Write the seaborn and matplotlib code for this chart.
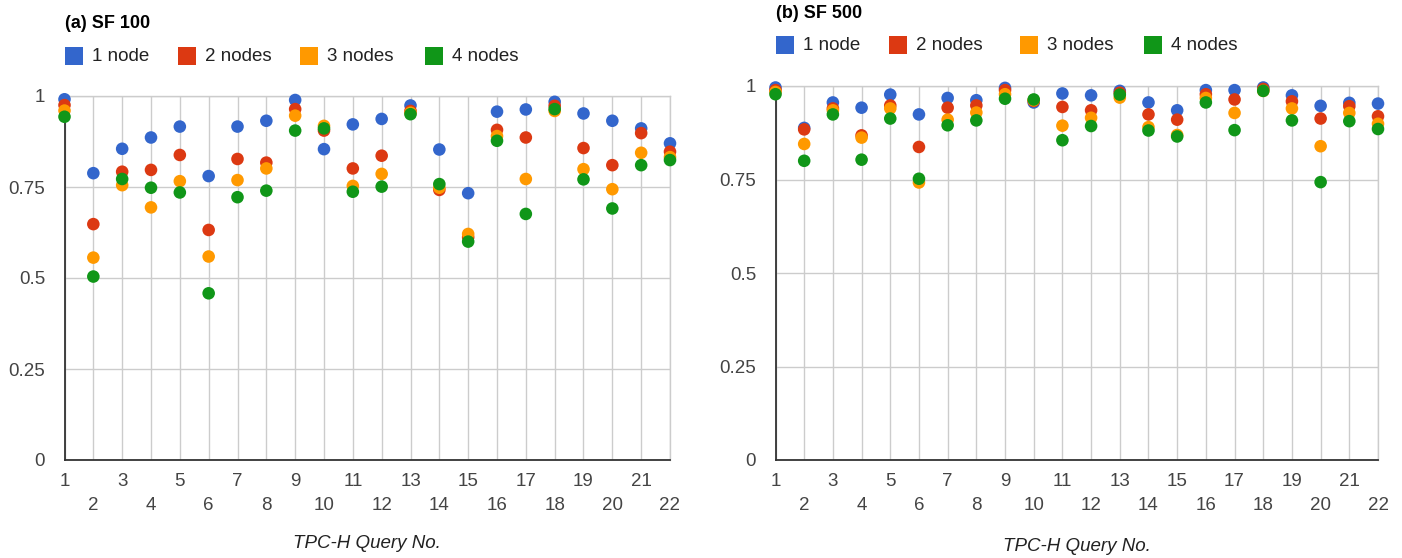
import numpy as np
import pandas as pd
import matplotlib
matplotlib.use("Agg")
import matplotlib.pyplot as plt
from matplotlib.lines import Line2D
from matplotlib.ticker import FixedLocator
import seaborn as sns

# TPC-H query numbers
queries = list(range(1, 23))
series_names = ["1 node", "2 nodes", "3 nodes", "4 nodes"]
series_colors = ["#3366CC", "#DC3912", "#FF9900", "#109618"]

# Scale factor 100
sf100_1_node = [0.991, 0.788, 0.855, 0.886, 0.916, 0.780, 0.916, 0.932, 0.989, 0.854, 0.922,
                0.937, 0.974, 0.853, 0.733, 0.957, 0.963, 0.984, 0.952, 0.932, 0.911, 0.870]
sf100_2_nodes = [0.975, 0.648, 0.792, 0.797, 0.838, 0.632, 0.827, 0.817, 0.964, 0.905, 0.801,
                 0.836, 0.959, 0.742, 0.612, 0.907, 0.886, 0.973, 0.857, 0.810, 0.898, 0.847]
sf100_3_nodes = [0.960, 0.556, 0.755, 0.694, 0.766, 0.559, 0.769, 0.801, 0.946, 0.918, 0.753,
                 0.786, 0.954, 0.748, 0.621, 0.890, 0.772, 0.959, 0.799, 0.744, 0.844, 0.832]
sf100_4_nodes = [0.943, 0.504, 0.772, 0.748, 0.735, 0.458, 0.722, 0.740, 0.905, 0.911, 0.737,
                 0.751, 0.950, 0.758, 0.600, 0.877, 0.676, 0.964, 0.771, 0.691, 0.810, 0.824]

# Scale factor 500
sf500_1_node = [0.996, 0.888, 0.956, 0.942, 0.977, 0.924, 0.968, 0.962, 0.995, 0.956, 0.980,
                0.975, 0.987, 0.956, 0.935, 0.989, 0.989, 0.996, 0.975, 0.947, 0.955, 0.953]
sf500_2_nodes = [0.989, 0.884, 0.940, 0.868, 0.948, 0.837, 0.942, 0.948, 0.989, 0.960, 0.944,
                 0.935, 0.982, 0.924, 0.910, 0.978, 0.964, 0.992, 0.959, 0.913, 0.946, 0.919]
sf500_3_nodes = [0.984, 0.845, 0.935, 0.862, 0.940, 0.742, 0.910, 0.929, 0.978, 0.962, 0.894,
                 0.915, 0.969, 0.890, 0.869, 0.968, 0.928, 0.987, 0.940, 0.839, 0.928, 0.899]
sf500_4_nodes = [0.978, 0.800, 0.924, 0.803, 0.913, 0.752, 0.895, 0.908, 0.966, 0.964, 0.855,
                 0.893, 0.977, 0.881, 0.865, 0.956, 0.882, 0.987, 0.908, 0.743, 0.906, 0.885]

y_ticks = [0, 0.25, 0.5, 0.75, 1]
y_tick_labels = ["0", "0.25", "0.5", "0.75", "1"]


def long_frame(columns):
    parts = []
    for name, vals in zip(series_names, columns):
        parts.append(pd.DataFrame({"query": queries, "value": vals, "series": name}))
    return pd.concat(parts, ignore_index=True)


sns.set_style("white")
plt.rcParams["font.family"] = ["Liberation Sans", "DejaVu Sans"]

W, H = 1402, 558
fig = plt.figure(figsize=(W / 100, H / 100), dpi=100)


def px_axes(x0, x1, ytop, ybot):
    return fig.add_axes([x0 / W, 1 - ybot / H, (x1 - x0) / W, (ybot - ytop) / H])


ax_a = px_axes(64.5, 670, 96, 460)
ax_b = px_axes(775.5, 1378, 86, 460)

palette = dict(zip(series_names, series_colors))
grid_c = "#cccccc"
axis_c = "#333333"
label_c = "#444444"

panels = [
    (ax_a, [sf100_1_node, sf100_2_nodes, sf100_3_nodes, sf100_4_nodes], "(a) SF 100",
     (65, 24), (65, 56), [0, 113, 235, 360]),
    (ax_b, [sf500_1_node, sf500_2_nodes, sf500_3_nodes, sf500_4_nodes], "(b) SF 500",
     (776, 14), (776, 45), [0, 113, 244, 368]),
]

for ax, cols, title, tpos, lpos, offs in panels:
    df = long_frame(cols)
    sns.scatterplot(data=df, x="query", y="value", hue="series", palette=palette,
                    hue_order=series_names, s=82, linewidth=0, legend=False,
                    ax=ax, clip_on=False, zorder=4)
    ax.set_xlim(1, 22)
    ax.set_ylim(0, 1)

    ax.xaxis.set_major_locator(FixedLocator([q for q in queries if q % 2 == 1]))
    ax.xaxis.set_minor_locator(FixedLocator([q for q in queries if q % 2 == 0]))
    ax.set_xticklabels([str(q) for q in queries if q % 2 == 1])
    ax.set_xticklabels([str(q) for q in queries if q % 2 == 0], minor=True)
    ax.set_yticks(y_ticks)
    ax.set_yticklabels(y_tick_labels)

    ax.tick_params(axis="x", which="major", length=0, pad=9.0, labelsize=13.5, labelcolor=label_c)
    ax.tick_params(axis="x", which="minor", length=0, pad=27.0, labelsize=13.5, labelcolor=label_c)
    ax.tick_params(axis="y", length=0, pad=14, labelsize=13.5, labelcolor=label_c)

    ax.grid(True, which="both", axis="x", color=grid_c, lw=1.0, zorder=0)
    ax.grid(True, which="major", axis="y", color=grid_c, lw=1.0, zorder=0)
    ax.set_axisbelow(True)
    for side in ("top", "right"):
        ax.spines[side].set_color(grid_c)
        ax.spines[side].set_linewidth(1.0)
    for side in ("left", "bottom"):
        ax.spines[side].set_color(axis_c)
        ax.spines[side].set_linewidth(1.3)
        ax.spines[side].set_zorder(3)

    ax.set_ylabel("")
    ax.set_xlabel("TPC-H Query No.", fontsize=13.5, fontstyle="italic", color="#222222")
    ax.xaxis.set_label_coords(0.5, -0.23)
    ax.xaxis.label.set_va("center")

    fig.text(tpos[0] / W, 1 - tpos[1] / H, title, fontsize=13, fontweight="bold",
             color="#000000", ha="left", va="center")

    # legend: coloured squares followed by series names
    for off, name, color in zip(offs, series_names, series_colors):
        x0 = lpos[0] + off
        fig.patches.append(matplotlib.patches.Rectangle(
            ((x0) / W, 1 - (lpos[1] + 9) / H), 18 / W, 18 / H,
            transform=fig.transFigure, facecolor=color, edgecolor="none"))
        fig.text((x0 + 27) / W, 1 - lpos[1] / H, name, fontsize=13.5, color="#222222",
                 ha="left", va="center")

fig.savefig("out.png", dpi=100)
